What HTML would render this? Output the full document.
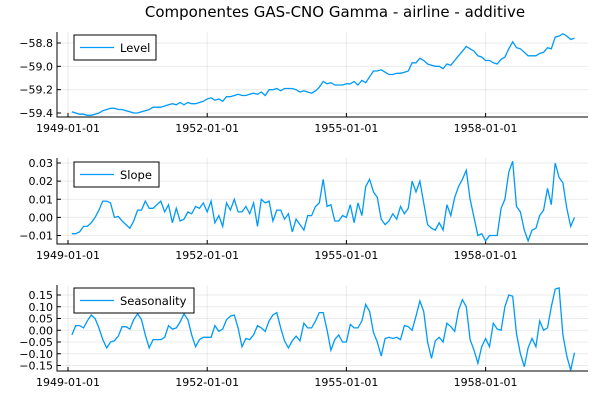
<!DOCTYPE html>
<html><head><meta charset="utf-8"><style>
body{margin:0;background:#fff;}
svg{display:block;font-family:"DejaVu Sans","Liberation Sans",sans-serif;}
</style></head><body>
<svg id="chart" width="600" height="400">
<text x="335" y="17" text-anchor="middle" font-size="15" fill="#000">Componentes GAS-CNO Gamma - airline - additive</text>
</svg>
<script>
const xTickLabels = ["1949-01-01","1952-01-01","1955-01-01","1958-01-01"];
const xTickMonths = [0,36,72,108];
const startMonth = 1;
const levelValues = [-59.39,-59.40,-59.41,-59.41,-59.42,-59.42,-59.41,-59.40,-59.38,-59.37,-59.36,
-59.36,-59.37,-59.37,-59.38,-59.39,-59.40,-59.40,-59.39,-59.38,-59.37,-59.35,-59.35,
-59.35,-59.34,-59.33,-59.32,-59.33,-59.31,-59.33,-59.31,-59.32,-59.32,-59.31,-59.30,
-59.28,-59.27,-59.29,-59.28,-59.30,-59.26,-59.26,-59.25,-59.24,-59.25,-59.25,-59.24,
-59.23,-59.24,-59.22,-59.25,-59.20,-59.20,-59.19,-59.21,-59.19,-59.19,-59.19,-59.20,
-59.22,-59.21,-59.22,-59.23,-59.21,-59.18,-59.13,-59.15,-59.14,-59.16,-59.16,-59.16,
-59.15,-59.15,-59.13,-59.16,-59.12,-59.14,-59.09,-59.04,-59.04,-59.03,-59.05,-59.07,
-59.07,-59.06,-59.06,-59.05,-59.04,-58.97,-58.97,-58.93,-58.95,-58.98,-58.99,-59.00,
-59.00,-59.02,-58.98,-58.99,-58.95,-58.91,-58.87,-58.83,-58.85,-58.87,-58.91,-58.92,
-58.95,-58.95,-58.97,-58.98,-58.94,-58.92,-58.85,-58.79,-58.84,-58.85,-58.88,-58.91,
-58.91,-58.91,-58.89,-58.88,-58.84,-58.85,-58.75,-58.74,-58.72,-58.74,-58.77,-58.76];
const slopeValues = [-0.009,-0.009,-0.008,-0.005,-0.005,-0.003,0.000,0.004,0.009,0.009,0.008,
0.000,0.0005,-0.002,-0.004,-0.006,-0.002,0.004,0.004,0.009,0.005,0.005,0.007,
0.009,0.003,0.007,-0.003,0.005,-0.002,-0.001,0.003,0.002,0.006,0.005,0.008,
0.003,0.009,-0.003,0.001,-0.005,0.008,0.004,0.010,0.003,0.003,0.006,0.002,
0.008,-0.005,0.010,0.008,0.009,-0.002,0.004,0.004,-0.001,0.002,-0.008,-0.001,
-0.004,-0.007,0.001,0.001,0.006,0.008,0.021,0.006,0.007,-0.002,-0.002,0.001,
0.000,0.007,-0.003,0.008,0.001,0.017,0.021,0.014,0.011,-0.001,-0.004,-0.002,
0.002,-0.001,0.006,0.002,0.005,0.020,0.014,0.020,0.008,-0.004,-0.006,-0.007,
-0.003,-0.007,0.007,0.001,0.011,0.017,0.021,0.026,0.010,0.000,-0.010,-0.009,
-0.013,-0.010,-0.010,-0.010,0.005,0.010,0.025,0.031,0.006,0.003,-0.007,-0.013,
-0.007,-0.006,0.001,0.004,0.016,0.007,0.030,0.022,0.019,0.005,-0.005,0.000];
const seasonValues = [-0.02,0.02,0.02,0.01,0.04,0.065,0.05,0.01,-0.04,-0.075,-0.05,
-0.045,-0.025,0.015,0.015,0.005,0.045,0.07,0.045,-0.02,-0.075,-0.04,-0.04,
-0.04,-0.03,0.02,0.005,0.01,0.035,0.07,0.045,-0.02,-0.07,-0.04,-0.03,
-0.03,-0.03,0.02,-0.005,0.005,0.045,0.06,0.065,0.01,-0.07,-0.035,-0.04,
-0.02,0.02,0.01,-0.005,0.04,0.065,0.075,0.01,-0.045,-0.075,-0.045,-0.025,
-0.045,0.03,0.01,0.01,0.04,0.075,0.075,0.00,-0.085,-0.04,-0.02,-0.05,
-0.05,0.025,0.01,0.01,0.04,0.11,0.08,-0.01,-0.05,-0.11,-0.035,-0.03,
-0.035,-0.03,-0.04,0.02,0.015,0.00,0.06,0.125,0.08,-0.05,-0.12,-0.045,
-0.03,-0.05,0.03,0.015,-0.005,0.085,0.13,0.10,-0.04,-0.085,-0.14,-0.07,
-0.035,-0.07,0.03,0.005,0.00,0.10,0.15,0.145,-0.015,-0.10,-0.155,-0.075,
-0.035,-0.07,0.04,0.00,0.01,0.10,0.175,0.18,-0.02,-0.11,-0.17,-0.095];
const levelTicks = [-58.8,-59.0,-59.2,-59.4];
const levelTickLabels = ["\u221258.8","\u221259.0","\u221259.2","\u221259.4"];
const slopeTicks = [0.03,0.02,0.01,0.00,-0.01];
const slopeTickLabels = ["0.03","0.02","0.01","0.00","\u22120.01"];
const seasonTicks = [0.15,0.10,0.05,0.00,-0.05,-0.10,-0.15];
const seasonTickLabels = ["0.15","0.10","0.05","0.00","\u22120.05","\u22120.10","\u22120.15"];

const NS = "http://www.w3.org/2000/svg";
const svg = document.getElementById("chart");
function mk(tag, attrs, parent){ const e=document.createElementNS(NS,tag); for(const k in attrs) e.setAttribute(k,attrs[k]); (parent||svg).appendChild(e); return e; }
const X0 = 57, X1 = 588;
function xScale(m){ return 68 + (m/36)*139.2; }

function panel(cfg){
  const g = mk("g", {});
  
  
  const y = v => cfg.yA + (v - cfg.vA) * (cfg.yB - cfg.yA) / (cfg.vB - cfg.vA);
  cfg.ticks.forEach((t,i)=>{
    const l = mk("line",{x1:X0,x2:X1,y1:y(t),y2:y(t),stroke:"#000","stroke-opacity":0.08,"stroke-width":1},g);
    
    
    const tk = mk("line",{x1:X0,x2:X0+4,y1:y(t),y2:y(t),stroke:"#000","stroke-width":1},g);
    
    
    const tx = mk("text",{x:X0-4,y:y(t)+4,"text-anchor":"end","font-size":11,fill:"#000"},g);
    tx.textContent = cfg.tickLabels[i];
    
    
  });
  xTickMonths.forEach((m,i)=>{
    const l = mk("line",{x1:xScale(m),x2:xScale(m),y1:cfg.top,y2:cfg.bottom,stroke:"#000","stroke-opacity":0.08,"stroke-width":1},g);
    
    
    const tk = mk("line",{x1:xScale(m),x2:xScale(m),y1:cfg.bottom,y2:cfg.bottom-4,stroke:"#000","stroke-width":1},g);
    
    
    const tx = mk("text",{x:xScale(m),y:cfg.bottom+15,"text-anchor":"middle","font-size":11,fill:"#000"},g);
    tx.textContent = xTickLabels[i];
    
    
  });
  const ax = mk("path",{d:`M${X0},${cfg.top}V${cfg.bottom}H${X1}`,fill:"none",stroke:"#000","stroke-width":1},g);
  
  
  const pts = cfg.values.map((v,i)=>xScale(startMonth+i).toFixed(1)+","+y(v).toFixed(1)).join(" ");
  const line = mk("polyline",{points:pts,fill:"none",stroke:"#009af9","stroke-width":1.3},g);
  
  
  const lg = mk("g",{},g);
  
  
  mk("rect",{x:74,y:cfg.legY,width:cfg.legW,height:25,fill:"#fff",stroke:"#000","stroke-width":1},lg);
  mk("line",{x1:80,x2:114,y1:cfg.legY+12.5,y2:cfg.legY+12.5,stroke:"#009af9","stroke-width":1.3},lg);
  const lt = mk("text",{x:120,y:cfg.legY+17,"font-size":11.5,fill:"#000"},lg);
  lt.textContent = cfg.label;
  
  
}
panel({name:"level",values:levelValues,ticks:levelTicks,tickLabels:levelTickLabels,vA:-58.8,yA:43,vB:-59.4,yB:113,top:32,bottom:117,legY:35,legW:82,label:"Level"});
panel({name:"slope",values:slopeValues,ticks:slopeTicks,tickLabels:slopeTickLabels,vA:0.03,yA:163,vB:-0.01,yB:235.5,top:158,bottom:244,legY:162,legW:85,label:"Slope"});
panel({name:"seasonality",values:seasonValues,ticks:seasonTicks,tickLabels:seasonTickLabels,vA:0.15,yA:295,vB:-0.15,yB:365.5,top:285,bottom:371,legY:288,legW:120,label:"Seasonality"});
</script>
</body></html>
